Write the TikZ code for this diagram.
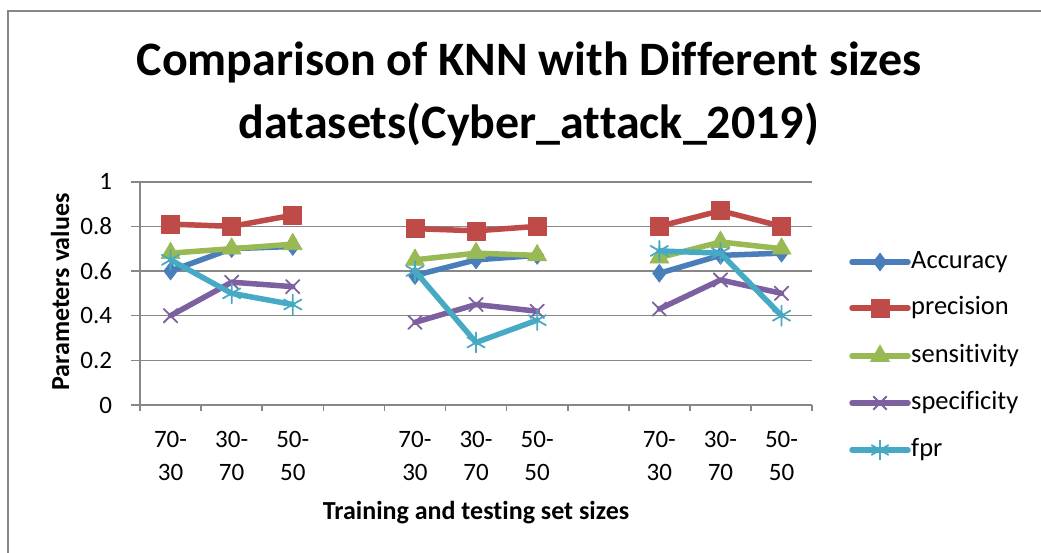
\documentclass[tikz,border=0pt]{standalone}
\usepackage{fontspec}
\setmainfont{Carlito}[Ligatures={NoCommon,NoRequired,NoContextual}, Contextuals=NoAlternate]
\usepackage{tikz}
\usetikzlibrary{plotmarks}
\definecolor{accblue}{HTML}{4A7EBB}
\definecolor{precred}{HTML}{BE4B48}
\definecolor{sensgreen}{HTML}{98B954}
\definecolor{specpurple}{HTML}{7D60A0}
\definecolor{fprcyan}{HTML}{46AAC5}
\definecolor{gridgray}{HTML}{878787}
\tikzstyle{gridline} = [draw=gridgray, line width=1.6pt]
\tikzstyle{series} = [line width=5.5pt, line join=round, line cap=round]
\tikzstyle{filledmark} = [mark options={solid, line width=0.6pt}]
\tikzstyle{crossmark} = [mark options={solid, line width=1.8pt}]
\tikzstyle{ticklabel} = [font=\fontsize{25}{33}\selectfont, align=center]
\tikzstyle{legendlabel} = [anchor=west, font=\fontsize{26.5}{30}\selectfont, inner sep=0pt]
\tikzstyle{axistitle} = [font=\fontsize{26}{30}\selectfont\bfseries]

\begin{document}
\begin{tikzpicture}[x=1pt, y=-1pt]
\useasboundingbox (0,0) rectangle (1041,553);

% chart frame (cut at the right and bottom)
\draw[gridgray, line width=1.6pt] (8,560) -- (8,11) -- (1050,11);

% title
\node[font=\fontsize{48}{63}\selectfont\bfseries, align=center] (title) at (529,94)
  {Comparison of KNN with Different sizes\\datasets(Cyber\_attack\_2019)};

% plot area: one unit per category, one unit per value
\begin{scope}[shift={(140,405)}, x=61.1pt, y=223.3pt]

% gridlines and y axis
\foreach \v in {0.2,0.4,...,1.0}
  \draw[gridline] (-0.15,\v) -- (11,\v);
\foreach \v/\t in {0/0,0.2/0.2,0.4/0.4,0.6/0.6,0.8/0.8,1/1}
  \node[ticklabel, anchor=east] (ylab\t) at (-0.4,\v) {\t};
\draw[gridline] (0,0) -- (0,1);
\draw[gridline] (-0.15,0) -- (11,0);
\foreach \i in {0,...,11}
  \draw[gridline] (\i,0) -- (\i,-0.028);

% x labels
\foreach \g in {0,4,8} {
  \node[ticklabel] (xa\g) at (\g+0.5,-0.23) {70-\\30};
  \node[ticklabel] (xb\g) at (\g+1.5,-0.23) {30-\\70};
  \node[ticklabel] (xc\g) at (\g+2.5,-0.23) {50-\\50};
}

% series
\foreach \g/\a/\b/\c in {0/0.60/0.70/0.71, 4/0.58/0.65/0.67, 8/0.59/0.67/0.68}
  \draw[series, accblue, filledmark, mark=diamond*, mark size=9pt]
    plot coordinates {(\g+0.5,\a) (\g+1.5,\b) (\g+2.5,\c)};
\foreach \g/\a/\b/\c in {0/0.81/0.80/0.85, 4/0.79/0.78/0.80, 8/0.80/0.87/0.80}
  \draw[series, precred, filledmark, mark=square*, mark size=9pt]
    plot coordinates {(\g+0.5,\a) (\g+1.5,\b) (\g+2.5,\c)};
\foreach \g/\a/\b/\c in {0/0.68/0.70/0.72, 4/0.65/0.68/0.67, 8/0.66/0.73/0.70}
  \draw[series, sensgreen, filledmark, mark=triangle*, mark size=11pt]
    plot coordinates {(\g+0.5,\a) (\g+1.5,\b) (\g+2.5,\c)};
\foreach \g/\a/\b/\c in {0/0.40/0.55/0.53, 4/0.37/0.45/0.42, 8/0.43/0.56/0.50}
  \draw[series, specpurple, crossmark, mark=x, mark size=9.5pt]
    plot coordinates {(\g+0.5,\a) (\g+1.5,\b) (\g+2.5,\c)};
\foreach \g/\a/\b/\c in {0/0.65/0.50/0.45, 4/0.60/0.28/0.38, 8/0.69/0.68/0.40}
  \draw[series, fprcyan, crossmark, mark=asterisk, mark size=10pt]
    plot coordinates {(\g+0.5,\a) (\g+1.5,\b) (\g+2.5,\c)};
\end{scope}

% axis titles
\node[axistitle] (xtitle) at (476,513) {Training and testing set sizes};
\node[axistitle, rotate=90] (ytitle) at (60,292) {Parameters values};

% legend
\foreach \y/\c in {262/accblue, 308/precred, 356/sensgreen, 403/specpurple, 450/fprcyan}
  \draw[series, \c] (852,\y) -- (908,\y);
\draw[accblue, filledmark] plot[mark=diamond*, mark size=9pt] coordinates {(880,262)};
\draw[precred, filledmark] plot[mark=square*, mark size=9pt] coordinates {(880,308)};
\draw[sensgreen, filledmark] plot[mark=triangle*, mark size=11pt] coordinates {(880,356)};
\draw[specpurple, crossmark] plot[mark=x, mark size=9.5pt] coordinates {(880,403)};
\draw[fprcyan, crossmark] plot[mark=asterisk, mark size=10pt] coordinates {(880,450)};
\node[legendlabel] (lgacc) at (911,262) {Accuracy};
\node[legendlabel] (lgprec) at (911,308) {precision};
\node[legendlabel] (lgsens) at (911,356) {sensitivity};
\node[legendlabel] (lgspec) at (911,403) {specificity};
\node[legendlabel] (lgfpr) at (911,450) {fpr};

\end{tikzpicture}
\end{document}
